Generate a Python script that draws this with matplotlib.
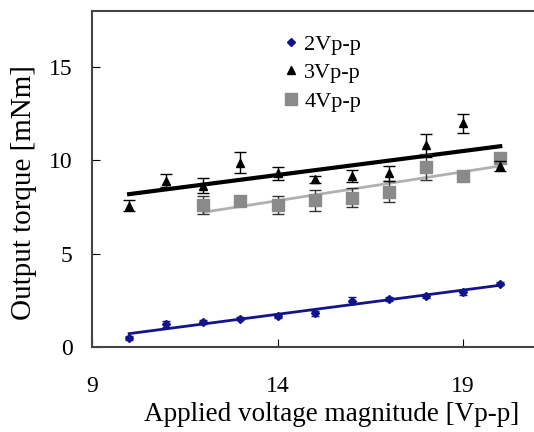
import numpy as np
import matplotlib.pyplot as plt
from matplotlib.lines import Line2D

plt.rcParams['font.family'] = ['Liberation Serif', 'DejaVu Serif']

# applied voltage magnitude [Vp-p]
volt = [10, 11, 12, 13, 14, 15, 16, 17, 18, 19, 20]
volt4 = [12, 13, 14, 15, 16, 17, 18, 19, 20]

# output torque [mNm]
t2 = [0.47, 1.23, 1.35, 1.5, 1.67, 1.8, 2.48, 2.57, 2.74, 2.92, 3.4]
e2 = [0.1, 0.15, 0.12, 0.08, 0.1, 0.12, 0.2, 0.1, 0.1, 0.15, 0.1]
t3 = [7.56, 8.9, 8.63, 9.88, 9.3, 8.98, 9.16, 9.3, 10.8, 11.98, 9.7]
e3 = [0.3, 0.35, 0.4, 0.55, 0.35, 0.2, 0.3, 0.4, 0.6, 0.5, 0.25]
t4 = [7.6, 7.82, 7.6, 7.86, 8.0, 8.32, 9.66, 9.16, 10.1]
e4 = [0.5, 0.15, 0.5, 0.55, 0.5, 0.55, 0.7, 0.1, 0.1]

fig = plt.figure(figsize=(5.34, 4.32), dpi=100)
ax = fig.add_axes([0.1723, 0.1968, 0.8277, 0.7777])

navy = '#14148a'
grey = '#8a8a8a'

ax.errorbar(volt, t2, yerr=e2, fmt='D', ms=4.5, color=navy, ecolor=navy,
            elinewidth=1, capsize=3, zorder=3)
ax.errorbar(volt, t3, yerr=e3, fmt='^', ms=6, color='black', ecolor='black',
            elinewidth=1, capsize=4, zorder=3)
ax.errorbar(volt4, t4, yerr=e4, fmt='s', ms=9, color=grey, ecolor='#333333',
            elinewidth=1, capsize=4, zorder=2)

# linear trend lines
for x, y, c, lw in [(volt, t2, navy, 2), (volt, t3, 'black', 3), (volt4, t4, '#b0b0b0', 2)]:
    k, b = np.polyfit(x, y, 1)
    xx = np.array([x[0], x[-1]])
    ax.plot(xx, k * xx + b, color=c, lw=lw, zorder=1)

ax.set_xlim(9, 20.91)
ax.set_ylim(0, 18)
ax.set_xticks([9, 14, 19])
ax.set_yticks([0, 5, 10, 15])
ax.spines['right'].set_visible(False)
for s in ['left', 'top', 'bottom']:
    ax.spines[s].set_color('#444444')
    ax.spines[s].set_linewidth(1.5)
ax.tick_params(axis='x', direction='in', length=6, pad=21, labelsize=17)
ax.tick_params(axis='y', direction='in', length=6, pad=14, labelsize=17)

ax.set_xlabel('Applied voltage magnitude [Vp-p]', fontsize=19.5)
ax.set_ylabel('Output torque [mNm]', fontsize=21)
ax.xaxis.set_label_coords(0.543, -0.165)
ax.yaxis.set_label_coords(-0.125, 0.46)

handles = [
    Line2D([], [], ls='none', marker='D', ms=4.5, color=navy),
    Line2D([], [], ls='none', marker='^', ms=6, color='black'),
    Line2D([], [], ls='none', marker='s', ms=9, color=grey),
]
ax.legend(handles, ['2Vp-p', '3Vp-p', '4Vp-p'], loc='upper left',
          bbox_to_anchor=(0.39, 0.99), frameon=False, fontsize=16,
          handlelength=0.6, handletextpad=0.3, labelspacing=0.35)

plt.savefig('out.png', dpi=100)
